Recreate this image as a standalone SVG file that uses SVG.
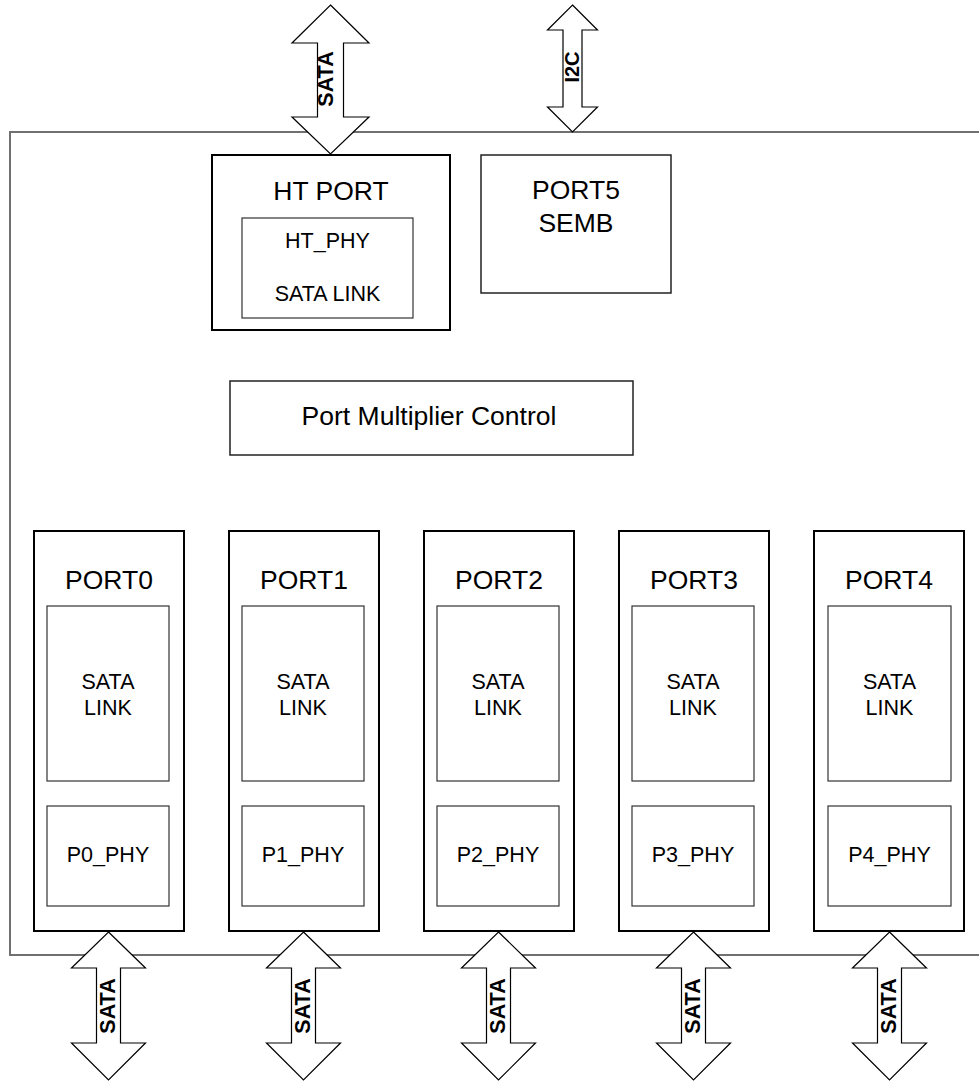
<svg xmlns="http://www.w3.org/2000/svg" width="979" height="1082" viewBox="0 0 979 1082">
<style>
.frame{fill:none;stroke:#707070;stroke-width:2}
.port{fill:#fff;stroke:#000;stroke-width:2}
.inner{fill:#fff;stroke:#333;stroke-width:1.2}
.box{fill:#fff;stroke:#222;stroke-width:1.5}
.arrow{fill:#fff;stroke:#000;stroke-width:1.2;stroke-linejoin:miter}
text{font-family:"Liberation Sans",Arial,sans-serif;fill:#000;text-anchor:middle}
.big{font-size:26.5px}
.small{font-size:21.5px}
.lbl{font-size:21.5px;font-weight:bold}
</style>
<rect id="frame" class="frame" x="10" y="132" width="1000" height="823"/>
<g id="ht-port">
<rect class="port" x="212" y="155" width="238" height="175"/>
<text class="big" x="331" y="200">HT PORT</text>
<rect class="inner" x="242" y="218" width="171" height="100"/>
<text class="small" x="327.5" y="248">HT_PHY</text>
<text class="small" x="327.5" y="301">SATA LINK</text>
</g>
<g id="port5-semb">
<rect class="box" x="481" y="155" width="190" height="138"/>
<text class="big" x="576" y="199">PORT5</text>
<text class="big" x="576" y="232">SEMB</text>
</g>
<g id="pm-control">
<rect class="box" x="230" y="381" width="403" height="74"/>
<text class="big" x="429" y="425">Port Multiplier Control</text>
</g>
<g id="port0">
<rect class="port" x="34" y="531" width="150" height="400"/>
<text class="big" x="109" y="589">PORT0</text>
<rect class="inner" x="47" y="606" width="122" height="175"/>
<text class="small" x="108" y="689">SATA</text>
<text class="small" x="108" y="715">LINK</text>
<rect class="inner" x="47" y="806" width="122" height="100"/>
<text class="small" x="108" y="862">P0_PHY</text>
</g>
<g id="port1">
<rect class="port" x="229" y="531" width="150" height="400"/>
<text class="big" x="304" y="589">PORT1</text>
<rect class="inner" x="242" y="606" width="122" height="175"/>
<text class="small" x="303" y="689">SATA</text>
<text class="small" x="303" y="715">LINK</text>
<rect class="inner" x="242" y="806" width="122" height="100"/>
<text class="small" x="303" y="862">P1_PHY</text>
</g>
<g id="port2">
<rect class="port" x="424" y="531" width="150" height="400"/>
<text class="big" x="499" y="589">PORT2</text>
<rect class="inner" x="437" y="606" width="122" height="175"/>
<text class="small" x="498" y="689">SATA</text>
<text class="small" x="498" y="715">LINK</text>
<rect class="inner" x="437" y="806" width="122" height="100"/>
<text class="small" x="498" y="862">P2_PHY</text>
</g>
<g id="port3">
<rect class="port" x="619" y="531" width="150" height="400"/>
<text class="big" x="694" y="589">PORT3</text>
<rect class="inner" x="632" y="606" width="122" height="175"/>
<text class="small" x="693" y="689">SATA</text>
<text class="small" x="693" y="715">LINK</text>
<rect class="inner" x="632" y="806" width="122" height="100"/>
<text class="small" x="693" y="862">P3_PHY</text>
</g>
<g id="port4">
<rect class="port" x="814" y="531" width="150" height="400"/>
<text class="big" x="889" y="589">PORT4</text>
<rect class="inner" x="828" y="606" width="123" height="175"/>
<text class="small" x="889.5" y="689">SATA</text>
<text class="small" x="889.5" y="715">LINK</text>
<rect class="inner" x="828" y="806" width="123" height="100"/>
<text class="small" x="889.5" y="862">P4_PHY</text>
</g>
<g id="connectors">
<g id="sata-host">
<polygon class="arrow" points="330.5,5 369,43 343.5,43 343.5,117 369,117 330.5,154 292,117 317.5,117 317.5,43 292,43"/>
<text class="lbl" transform="translate(333,79) rotate(-90)">SATA</text>
</g>
<g id="i2c">
<polygon class="arrow" points="572.5,5 597.5,30 582,30 582,107 597.5,107 572.5,132 547.5,107 563,107 563,30 547.5,30"/>
<text class="lbl" style="font-size:20px" transform="translate(579,67) rotate(-90)">I2C</text>
</g>
<g id="sata0">
<polygon class="arrow" points="108.5,932 145.5,968 120.5,968 120.5,1043 145.5,1043 108.5,1080 71.5,1043 96.5,1043 96.5,968 71.5,968"/>
<text class="lbl" transform="translate(115,1006) rotate(-90)">SATA</text>
</g>
<g id="sata1">
<polygon class="arrow" points="303.5,932 340.5,968 315.5,968 315.5,1043 340.5,1043 303.5,1080 266.5,1043 291.5,1043 291.5,968 266.5,968"/>
<text class="lbl" transform="translate(310,1006) rotate(-90)">SATA</text>
</g>
<g id="sata2">
<polygon class="arrow" points="498.5,932 535.5,968 510.5,968 510.5,1043 535.5,1043 498.5,1080 461.5,1043 486.5,1043 486.5,968 461.5,968"/>
<text class="lbl" transform="translate(505,1006) rotate(-90)">SATA</text>
</g>
<g id="sata3">
<polygon class="arrow" points="693.5,932 730.5,968 705.5,968 705.5,1043 730.5,1043 693.5,1080 656.5,1043 681.5,1043 681.5,968 656.5,968"/>
<text class="lbl" transform="translate(700,1006) rotate(-90)">SATA</text>
</g>
<g id="sata4">
<polygon class="arrow" points="889.5,932 926.5,968 901.5,968 901.5,1043 926.5,1043 889.5,1080 852.5,1043 877.5,1043 877.5,968 852.5,968"/>
<text class="lbl" transform="translate(896,1006) rotate(-90)">SATA</text>
</g>
</g>
</svg>
